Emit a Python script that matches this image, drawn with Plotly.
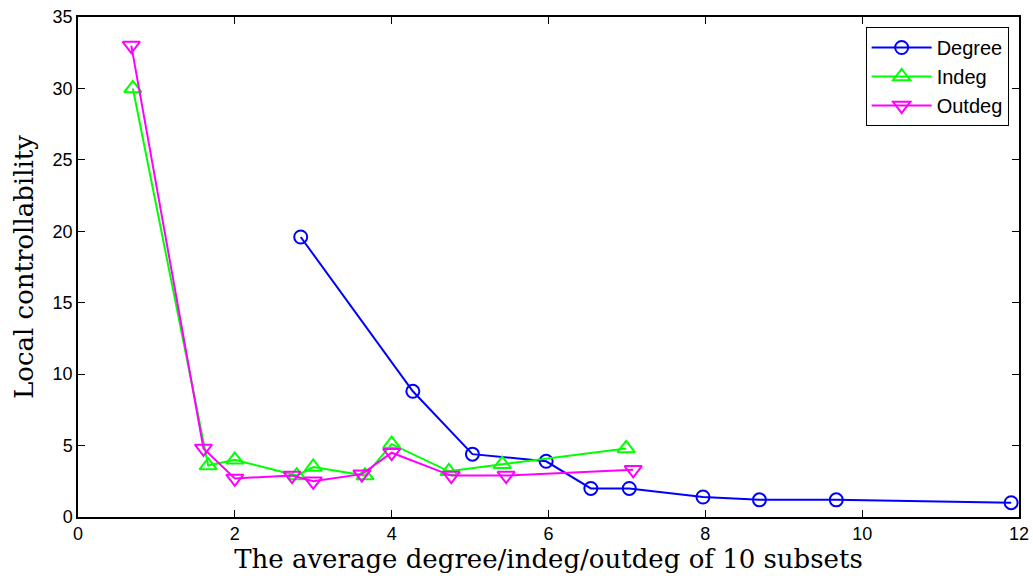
import plotly.graph_objects as go

deg_x = [2.84, 4.27, 5.03, 5.97, 6.54, 7.03, 7.97, 8.69, 9.67, 11.9]
deg_y = [19.6, 8.8, 4.4, 3.9, 2.0, 2.0, 1.4, 1.2, 1.2, 1.0]

in_x = [0.70, 1.66, 2.0, 2.79, 3.0, 3.66, 4.0, 4.73, 5.41, 6.99]
in_y = [30.0, 3.6, 4.0, 2.9, 3.5, 2.9, 5.1, 3.2, 3.7, 4.8]

out_x = [0.68, 1.6, 2.0, 2.73, 3.0, 3.62, 4.0, 4.76, 5.46, 7.08]
out_y = [33.0, 4.8, 2.7, 2.9, 2.5, 3.0, 4.5, 2.9, 2.9, 3.3]

x_ticks = [0, 2, 4, 6, 8, 10, 12]
y_ticks = [0, 5, 10, 15, 20, 25, 30, 35]

fig = go.Figure()
fig.add_trace(go.Scatter(x=deg_x, y=deg_y, name="Degree", mode="lines+markers",
                         line=dict(color="#0000FF", width=2),
                         marker=dict(symbol="circle-open", size=13, color="#0000FF", line=dict(width=2))))
fig.add_trace(go.Scatter(x=in_x, y=in_y, name="Indeg", mode="lines+markers",
                         line=dict(color="#00FF00", width=2),
                         marker=dict(symbol="triangle-up-open", size=15, color="#00FF00", line=dict(width=2))))
fig.add_trace(go.Scatter(x=out_x, y=out_y, name="Outdeg", mode="lines+markers",
                         line=dict(color="#FF00FF", width=2),
                         marker=dict(symbol="triangle-down-open", size=15, color="#FF00FF", line=dict(width=2))))

axis_common = dict(showgrid=False, zeroline=False, showline=True, linecolor="black", linewidth=1.5,
                   mirror="allticks", ticks="inside", ticklen=7, tickcolor="black", tickwidth=1,
                   ticklabeloverflow="allow",
                   tickfont=dict(family="Liberation Sans, Arial", size=18, color="black"))

fig.update_layout(
    width=1033, height=586,
    margin=dict(l=78, r=14, t=17, b=69, autoexpand=False),
    paper_bgcolor="white", plot_bgcolor="white",
    xaxis=dict(range=[0, 12], tickvals=x_ticks,
               title=dict(text="The average degree/indeg/outdeg of 10 subsets",
                          font=dict(family="DejaVu Serif", size=26, color="black"), standoff=4),
               **axis_common),
    yaxis=dict(range=[0, 35], tickvals=y_ticks,
               title=dict(text="Local controllability",
                          font=dict(family="DejaVu Serif", size=26, color="black"), standoff=12),
               **axis_common),
    legend=dict(x=0.989, y=0.98, xanchor="right", yanchor="top",
                bordercolor="black", borderwidth=1, bgcolor="white",
                font=dict(family="Liberation Sans, Arial", size=20, color="black"),
                tracegroupgap=0, itemwidth=60),
    showlegend=True,
)

fig.write_html("out.html", config={"displayModeBar": False},
               post_script="document.body.style.margin='0';document.body.style.overflow='hidden';")
